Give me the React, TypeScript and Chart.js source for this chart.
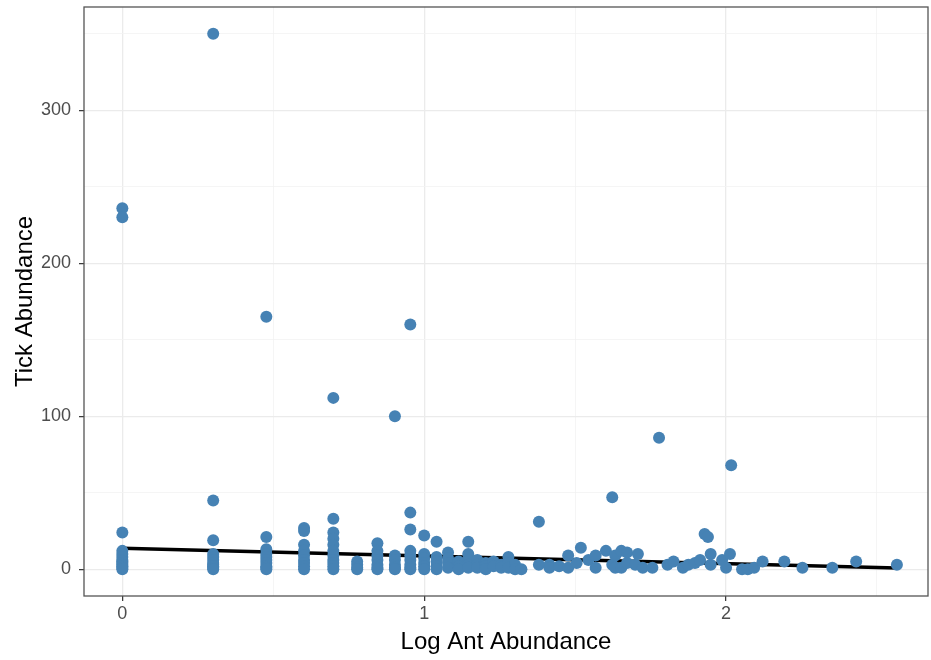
import React, { useEffect, useRef } from "react";
import { Chart, registerables } from "chart.js";

Chart.register(...registerables);

// Log ant abundance (x) and tick abundance (y) of each observation
const logAnt: number[] = [
  0, 0, 0, 0, 0, 0, 0, 0, 0, 0, 0, 0, 0,
  0.301, 0.301, 0.301, 0.301, 0.301, 0.301, 0.301, 0.301, 0.301, 0.301, 0.301,
  0.477, 0.477, 0.477, 0.477, 0.477, 0.477, 0.477, 0.477, 0.477, 0.477,
  0.602, 0.602, 0.602, 0.602, 0.602, 0.602, 0.602, 0.602, 0.602,
  0.699, 0.699, 0.699, 0.699, 0.699, 0.699, 0.699, 0.699, 0.699, 0.699, 0.699,
  0.778, 0.778, 0.778, 0.778,
  0.845, 0.845, 0.845, 0.845, 0.845, 0.845, 0.845,
  0.903, 0.903, 0.903, 0.903, 0.903, 0.903,
  0.954, 0.954, 0.954, 0.954, 0.954, 0.954, 0.954, 0.954, 0.954,
  1, 1, 1, 1, 1, 1,
  1.041, 1.041, 1.041, 1.041, 1.041,
  1.079, 1.079, 1.079, 1.079,
  1.114, 1.114, 1.114,
  1.146, 1.146, 1.146, 1.146, 1.146,
  1.176, 1.176, 1.176,
  1.204, 1.204, 1.204,
  1.23, 1.23,
  1.255, 1.255,
  1.279, 1.279, 1.279,
  1.301, 1.301,
  1.322,
  1.38, 1.38,
  1.415, 1.415,
  1.447,
  1.477, 1.477,
  1.505,
  1.519,
  1.544,
  1.568, 1.568,
  1.602,
  1.623, 1.623,
  1.633, 1.633,
  1.653, 1.653,
  1.672, 1.672,
  1.699,
  1.708,
  1.724,
  1.756,
  1.778,
  1.806,
  1.826,
  1.857,
  1.875,
  1.897,
  1.914,
  1.929,
  1.94,
  1.949, 1.949,
  1.987,
  2,
  2.013,
  2.017,
  2.053,
  2.072,
  2.093,
  2.121,
  2.193,
  2.253,
  2.352,
  2.431,
  2.566,
];

const tickAbundance: number[] = [
  236, 230, 24, 12, 10, 8, 6, 5, 4, 3, 2, 1, 0,
  350, 45, 19, 10, 8, 6, 4, 3, 2, 1, 0,
  165, 21, 13, 10, 8, 6, 4, 2, 1, 0,
  27, 25, 16, 12, 9, 6, 4, 2, 0,
  112, 33, 24, 20, 16, 12, 9, 6, 4, 2, 0,
  5, 3, 1, 0,
  17, 12, 9, 6, 3, 1, 0,
  100, 9, 6, 3, 1, 0,
  160, 37, 26, 12, 9, 6, 3, 1, 0,
  22, 10, 7, 4, 2, 0,
  18, 8, 5, 2, 0,
  11, 7, 4, 1,
  5, 2, 0,
  18, 10, 6, 3, 1,
  6, 3, 1,
  4, 2, 0,
  5, 2,
  3, 1,
  8, 4, 1,
  3, 0,
  0,
  31, 3,
  3, 1,
  2,
  9, 1,
  4,
  14,
  6,
  9, 1,
  12,
  47, 3,
  9, 1,
  12, 1,
  11, 4,
  3,
  10,
  1,
  1,
  86,
  3,
  5,
  1,
  3,
  4,
  6,
  23,
  21,
  10, 3,
  6,
  1,
  10,
  68,
  0,
  0,
  1,
  5,
  5,
  1,
  1,
  5,
  3,
];

// Fitted linear trend (endpoints over the observed x range)
const fitX: number[] = [0, 2.566];
const fitY: number[] = [13.7, 0.8];

const xTicks: number[] = [0, 0.5, 1, 1.5, 2, 2.5];
const yTicks: number[] = [0, 50, 100, 150, 200, 250, 300, 350];

const xTitle = "Log Ant Abundance";
const yTitle = "Tick Abundance";

const FONT = "'Liberation Sans', Arial, sans-serif";

export default function App() {
  const ref = useRef<HTMLCanvasElement | null>(null);

  useEffect(() => {
    if (!ref.current) return;

    const borderPlugin = {
      id: "panelBorder",
      afterDatasetsDraw(chart: any) {
        const { ctx, chartArea } = chart;
        ctx.save();
        ctx.strokeStyle = "#555555";
        ctx.lineWidth = 1.3;
        ctx.strokeRect(
          chartArea.left,
          chartArea.top,
          chartArea.right - chartArea.left,
          chartArea.bottom - chartArea.top
        );
        ctx.restore();
      },
    };

    const isMajorX = (v: number) => Math.abs(v - Math.round(v)) < 1e-9;
    const isMajorY = (v: number) => v % 100 === 0;

    const chart = new Chart(ref.current, {
      type: "scatter",
      data: {
        datasets: [
          {
            type: "scatter",
            data: logAnt.map((x, i) => ({ x, y: tickAbundance[i] })),
            backgroundColor: "#4682B4",
            borderWidth: 0,
            pointRadius: 6,
            pointHoverRadius: 6,
          },
          {
            type: "line",
            data: fitX.map((x, i) => ({ x, y: fitY[i] })),
            borderColor: "#000000",
            borderWidth: 3.5,
            pointRadius: 0,
            fill: false,
          } as any,
        ],
      },
      options: {
        responsive: false,
        animation: false,
        layout: { autoPadding: false, padding: { top: 7, right: 3, left: 0, bottom: 0 } },
        plugins: {
          legend: { display: false },
          tooltip: { enabled: false },
        },
        scales: {
          x: {
            type: "linear",
            min: -0.127,
            max: 2.669,
            afterBuildTicks: (scale: any) => {
              scale.ticks = xTicks.map((v) => ({ value: v }));
            },
            afterFit: (scale: any) => {
              scale.height = 64;
              scale.paddingLeft = 0;
              scale.paddingRight = 0;
            },
            border: { display: false },
            grid: {
              color: (c: any) => (isMajorX(c.tick?.value ?? 0) ? "#EBEBEB" : "#F3F3F3"),
              lineWidth: (c: any) => (isMajorX(c.tick?.value ?? 0) ? 1.3 : 0.8),
              tickColor: (c: any) => (isMajorX(c.tick?.value ?? 0) ? "#333333" : "rgba(0,0,0,0)"),
              tickLength: 5,
              tickWidth: 1.2,
            },
            ticks: {
              color: "#4D4D4D",
              font: { family: FONT, size: 18 },
              padding: 2,
              autoSkip: false,
              maxRotation: 0,
              callback: (v: any) => (isMajorX(Number(v)) ? String(Math.round(Number(v))) : ""),
            },
            title: {
              display: true,
              text: xTitle,
              color: "#000000",
              font: { family: FONT, size: 24 },
              padding: { top: 2, bottom: 3 },
            },
          },
          y: {
            type: "linear",
            min: -17.5,
            max: 367.5,
            afterBuildTicks: (scale: any) => {
              scale.ticks = yTicks.map((v) => ({ value: v }));
            },
            afterFit: (scale: any) => {
              scale.width = 84;
              scale.paddingTop = 0;
              scale.paddingBottom = 0;
            },
            border: { display: false },
            grid: {
              color: (c: any) => (isMajorY(c.tick?.value ?? 0) ? "#EBEBEB" : "#F3F3F3"),
              lineWidth: (c: any) => (isMajorY(c.tick?.value ?? 0) ? 1.3 : 0.8),
              tickColor: (c: any) => (isMajorY(c.tick?.value ?? 0) ? "#333333" : "rgba(0,0,0,0)"),
              tickLength: 5,
              tickWidth: 1.2,
            },
            ticks: {
              color: "#4D4D4D",
              font: { family: FONT, size: 18 },
              padding: 8,
              autoSkip: false,
              callback: (v: any) => (isMajorY(Number(v)) ? String(v) : ""),
            },
            title: {
              display: true,
              text: yTitle,
              color: "#000000",
              font: { family: FONT, size: 24 },
              padding: { top: 11, bottom: 6 },
            },
          },
        },
      },
      plugins: [borderPlugin],
    });

    return () => chart.destroy();
  }, []);

  return (
    <div style={{ position: "fixed", left: 0, top: 0, width: 931, height: 660, background: "#ffffff" }}>
      <canvas ref={ref} width={931} height={660} style={{ display: "block" }} />
    </div>
  );
}
